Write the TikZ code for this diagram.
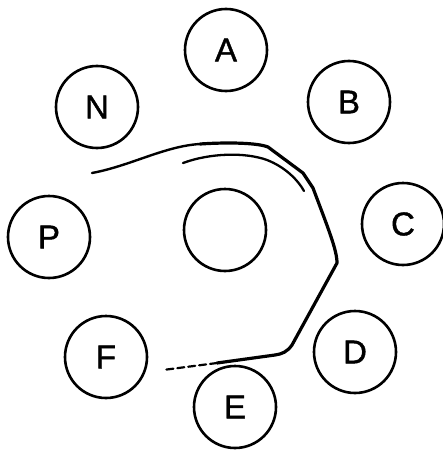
\documentclass[tikz,border=0pt]{standalone}
\usepackage{fontspec}
\newfontfamily\ringfont[FakeBold=1.2]{Liberation Sans}
\usetikzlibrary{positioning}

\begin{document}
\begin{tikzpicture}[x=1pt, y=-1pt,
      ring/.style={circle, draw=black, line width=2.6pt, minimum size=82pt, inner sep=0pt,
                   font=\ringfont\fontsize{33}{33}\selectfont},
      trace/.style={draw=black, line width=3.2pt, line cap=round, line join=round},
      tracethin/.style={draw=black, line width=2.3pt, line cap=round}]
    \useasboundingbox (0,0) rectangle (443,452);
    \node[ring] (a) at (226,50) {A};
    \node[ring] (b) at (349,102) {B};
    \node[ring] (c) at (403,224) {C};
    \node[ring] (d) at (355,352) {D};
    \node[ring] (e) at (235,407) {E};
    \node[ring] (f) at (106,357) {F};
    \node[ring] (p) at (49,237) {P};
    \node[ring] (n) at (97,107) {N};
    \node[ring] (hub) at (225,230) {};
    \draw[trace, line width=2.4pt] (92,173) .. controls (130,166) and (165,146) .. (200,144);
    \draw[trace] (200,144) .. controls (230,142) and (258,143) .. (268,147)
      -- (303,173) -- (313,188)
      .. controls (328,228) and (337,250) .. (337,263) -- (292,345)
      .. controls (287,352) and (282,354) .. (275,355) -- (217,363);
    \draw[trace, line width=2.2pt, dash pattern=on 7pt off 4pt] (217,363) -- (163,370);
    \draw[tracethin] (183,163) .. controls (210,153) and (245,152) .. (267,160)
      .. controls (285,167) and (298,180) .. (304,191);
  \end{tikzpicture}
\end{document}
